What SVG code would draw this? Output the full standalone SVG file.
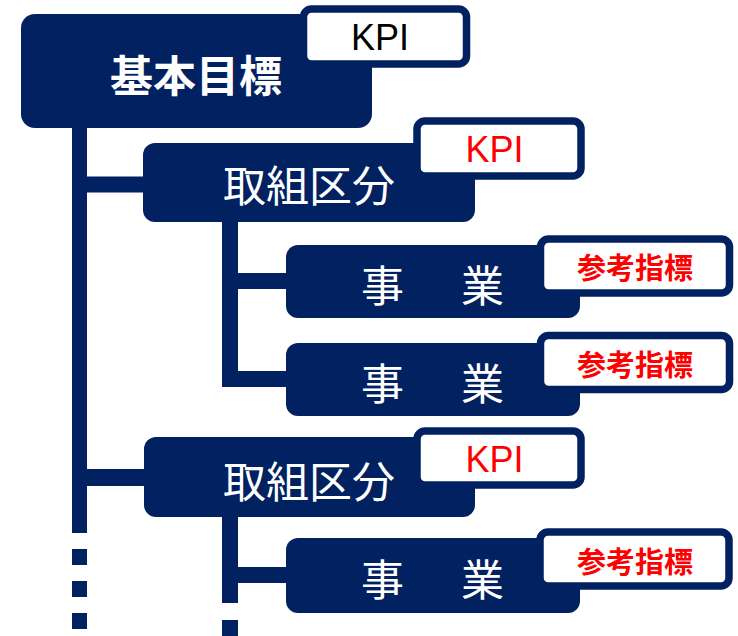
<svg xmlns="http://www.w3.org/2000/svg" width="738" height="636" viewBox="0 0 738 636">
<style>
.box{fill:#022160}
.tag{fill:#ffffff;stroke:#022160;stroke-width:7.5}
.conn{stroke:#022160;fill:none;stroke-linecap:butt}
.jp{font-family:"Noto Sans CJK JP","Noto Sans",sans-serif;fill:#ffffff;font-size:43px}
.kpi{font-family:"Liberation Sans",Arial,sans-serif;font-size:36px;text-anchor:middle}
.ref{font-family:"Noto Sans CJK JP",sans-serif;font-size:29px;font-weight:bold;fill:#ff0000;text-anchor:middle}
</style>
<rect width="738" height="636" fill="#ffffff"/>
<g id="connectors" class="conn">
  <path d="M79.5 127 V533" stroke-width="15"/>
  <path d="M79.5 549 V636" stroke-width="15" stroke-dasharray="16 16"/>
  <path d="M87 184.5 H145" stroke-width="16"/>
  <path d="M87 477.5 H145" stroke-width="17"/>
  <path d="M230 221 V387" stroke-width="16"/>
  <path d="M238 281 H287" stroke-width="16"/>
  <path d="M222 379 H287" stroke-width="16"/>
  <path d="M230 516 V603" stroke-width="16"/>
  <path d="M238 575 H287" stroke-width="16"/>
  <path d="M230 620 V636" stroke-width="16"/>
</g>
<g id="goal">
  <rect class="box" x="21" y="14" width="351" height="114" rx="14"/>
  <text class="jp" x="196" y="92" text-anchor="middle" font-weight="bold">基本目標</text>
</g>
<g id="goal-kpi">
  <rect class="tag" x="303.5" y="9" width="163" height="55" rx="8"/>
  <text class="kpi" x="380" y="50" fill="#000000">KPI</text>
</g>
<g id="category1">
  <rect class="box" x="143" y="143" width="332" height="79" rx="12"/>
  <text class="jp" x="309" y="202" text-anchor="middle">取組区分</text>
</g>
<g id="category1-kpi">
  <rect class="tag" x="417" y="121" width="164" height="55" rx="8"/>
  <text class="kpi" x="494.5" y="162" fill="#ff0000">KPI</text>
</g>
<g id="project1">
  <rect class="box" x="286" y="245" width="294" height="73" rx="12"/>
  <text class="jp" x="361" y="302" letter-spacing="7">事　業</text>
</g>
<g id="project1-ref">
  <rect class="tag" x="540.5" y="239" width="189" height="54" rx="8"/>
  <text class="ref" x="635" y="279">参考指標</text>
</g>
<g id="project2">
  <rect class="box" x="286" y="343" width="294" height="73" rx="12"/>
  <text class="jp" x="361" y="400" letter-spacing="7">事　業</text>
</g>
<g id="project2-ref">
  <rect class="tag" x="540.5" y="335.5" width="189" height="54" rx="8"/>
  <text class="ref" x="635" y="376">参考指標</text>
</g>
<g id="category2">
  <rect class="box" x="144" y="437" width="331" height="80" rx="12"/>
  <text class="jp" x="309" y="498" text-anchor="middle">取組区分</text>
</g>
<g id="category2-kpi">
  <rect class="tag" x="417" y="431" width="164" height="54" rx="8"/>
  <text class="kpi" x="494.5" y="472" fill="#ff0000">KPI</text>
</g>
<g id="project3">
  <rect class="box" x="286" y="538" width="294" height="75" rx="12"/>
  <text class="jp" x="361" y="596" letter-spacing="7">事　業</text>
</g>
<g id="project3-ref">
  <rect class="tag" x="540" y="532" width="189" height="54" rx="8"/>
  <text class="ref" x="635" y="573">参考指標</text>
</g>
</svg>
